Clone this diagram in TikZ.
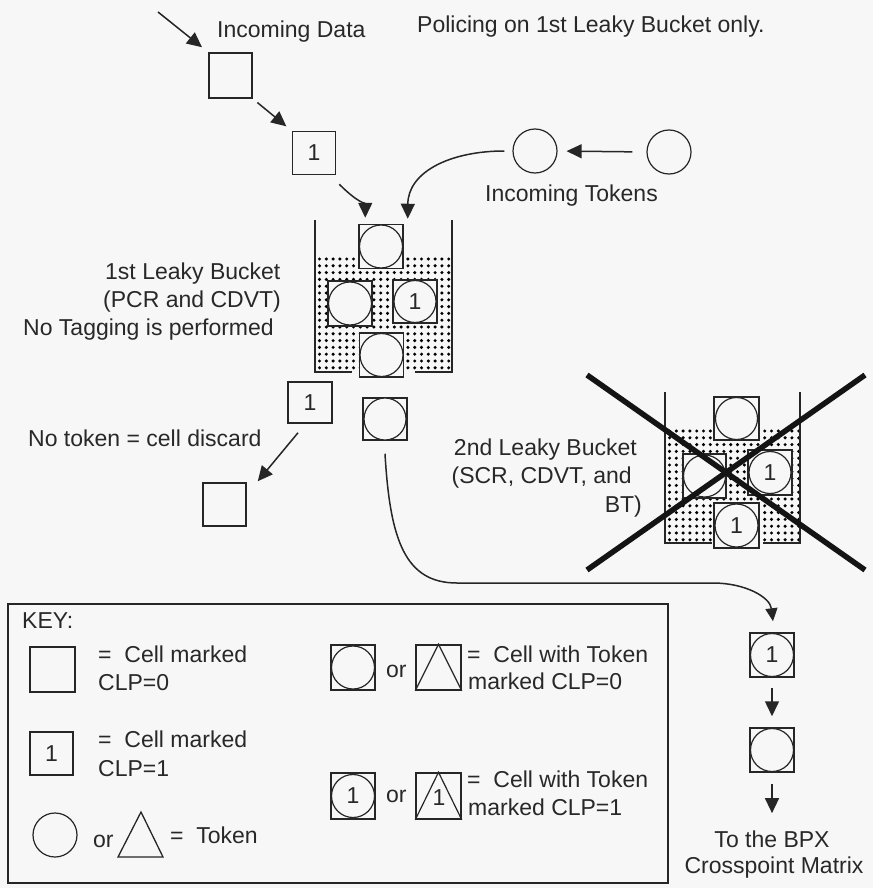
\documentclass[tikz,border=0pt]{standalone}
\usepackage{fontspec}
\setmainfont{Liberation Sans}
\usetikzlibrary{arrows.meta}
\definecolor{bg}{RGB}{247,247,247}
\definecolor{lc}{RGB}{38,38,38}
\definecolor{tc}{RGB}{40,40,40}
\newcommand\dfont{\fontsize{23}{26}\selectfont}
\tikzset{
  ln/.style={draw=lc, line width=1.5pt},
  arr/.style={ln, -{Triangle[length=15pt,width=14pt]}},
  txt/.style={font=\dfont, text=tc, inner sep=0pt, anchor=base west},
  cellbox/.style={draw=lc, fill=bg, line width=1.5pt, minimum width=44pt, minimum height=44pt, inner sep=0pt, font=\dfont, text=tc},
  tok/.style={circle, draw=lc, fill=bg, line width=1.2pt, minimum size=43pt, inner sep=0pt, font=\dfont, text=tc},
  wall/.style={draw=lc, line width=1.6pt},
  dotf/.style={fill=black},
  cross/.style={draw=black!92, line width=5.5pt}
}
\begin{document}
\begin{tikzpicture}[x=1pt,y=-1pt]
\useasboundingbox (0,0) rectangle (873,888);
\fill[bg] (0,0) rectangle (873,888);

% ---------- stipple of the buckets ----------
\foreach \i in {0,...,19}{\foreach \j in {0,...,16}{
  \fill[dotf] (319.5+\i*6.8,259+\j*6.8) circle (1.7pt);
  \fill[dotf] (669.5+\i*6.8,431+\j*6.8) circle (1.7pt);
}}

% ---------- texts ----------
\node[txt] (tdata) at (217,38) {Incoming Data};
\node[txt] (tpol) at (417,33) {Policing on 1st Leaky Bucket only.};
\node[txt] (ttok) at (485,201) {Incoming Tokens};
\node[txt] (tb1a) at (105,279) {1st Leaky Bucket};
\node[txt] (tb1b) at (103,307) {(PCR and CDVT)};
\node[txt] (tb1c) at (23,335) {No Tagging is performed};
\node[txt] (tdisc) at (28,446) {No token = cell discard};
\node[txt, anchor=base east] (tb2a) at (637,455) {2nd Leaky Bucket};
\node[txt, anchor=base east] (tb2b) at (632,483) {(SCR, CDVT, and};
\node[txt, anchor=base east] (tb2c) at (642,512) {BT)};
\node[txt, anchor=base] (tbpx1) at (772,847) {To the BPX};
\node[txt, anchor=base] (tbpx2) at (774,873) {Crosspoint Matrix};

% ---------- incoming data ----------
\coordinate (in0) at (158,12);
\node[cellbox, minimum height=45pt, minimum width=43pt] (d0) at (230.5,75.5) {};
\node[cellbox, minimum size=43pt] (d1) at (314,153) {1};

% ---------- tokens ----------
\node[tok, minimum size=44pt] (t1) at (535,151) {};
\node[tok, minimum size=44pt] (t2) at (669,152) {};

% ---------- bucket 1 ----------
\fill[bg] (314,373) rectangle (453,380);
\node[cellbox] (b1a) at (381,246.5) {};
\node[tok] (b1at) at (b1a) {};
\node[cellbox, minimum height=45pt] (b1b) at (350,303.5) {};
\node[tok] (b1bt) at (b1b) {};
\node[cellbox, minimum height=43pt] (b1c) at (415,301.5) {};
\node[tok, minimum size=42pt] (b1ct) at (b1c) {1};
\node[cellbox] (b1d) at (381.5,355) {};
\node[tok] (b1dt) at (b1d) {};
\draw[wall] (315,220) -- (315,372) -- (352,372);
\draw[wall] (452,220) -- (452,372) -- (415,372);

% ---------- below bucket 1 ----------
\node[cellbox, minimum height=41pt] (q1) at (310,402.5) {1};
\node[cellbox, minimum height=42pt] (c1) at (385,419) {};
\node[tok, minimum size=42pt] (c1t) at (c1) {};
\node[cellbox, minimum width=43pt, minimum height=43pt] (disc) at (224.5,504.5) {};

% ---------- bucket 2 ----------
\fill[bg] (664,544) rectangle (801,550);
\node[cellbox, minimum width=45pt, minimum height=43pt] (b2a) at (736.5,418.5) {};
\node[tok, minimum size=42pt] (b2at) at (b2a) {};
\node[cellbox, minimum width=43pt] (b2b) at (704.5,476) {};
\node[tok, minimum size=42pt] (b2bt) at (b2b) {};
\node[cellbox, minimum height=45pt] (b2c) at (770,472.5) {};
\node[tok, minimum size=42pt] (b2ct) at (b2c) {1};
\node[cellbox, minimum width=45pt, minimum height=45pt] (b2d) at (736.5,525.5) {};
\node[tok, minimum size=43pt] (b2dt) at (b2d) {1};
\draw[wall] (665,392) -- (665,543) -- (712,543);
\draw[wall] (800,392) -- (800,543) -- (763,543);
\coordinate (xa) at (587,375);
\coordinate (xb) at (865,570);
\coordinate (xc) at (865,375);
\coordinate (xd) at (587,570);
\draw[cross] (xa) -- (xb);
\draw[cross] (xc) -- (xd);

% ---------- right column ----------
\node[cellbox] (r1) at (772,655) {};
\node[tok] (r1t) at (r1) {1};
\node[cellbox] (r2) at (772,750) {};
\node[tok] (r2t) at (r2) {};

% ---------- connectors ----------
\draw[arr, shorten >=8pt] (in0) -- (d0.north west);
\draw[arr, shorten <=6pt, shorten >=7pt] (d0.south east) -- (d1.north west);
\draw[arr] ([shift={(3,9)}]d1.south east) .. controls +(18,18) and +(0,-14) .. ([shift={(7,-6)}]b1a.north west);
\draw[arr] ([shift={(-8,0)}]t1.west) .. controls (450,151) and (408,172) .. ([shift={(4,-5)}]b1a.north east);
\draw[arr, shorten <=14pt, shorten >=9pt] (t2.west) -- (t1.east);
\draw[arr] ([shift={(-12,9)}]q1.south) -- ([shift={(11,-1)}]disc.north east);
\draw[ln, -{Triangle[length=13pt,width=12pt]}] ([shift={(0,13)}]c1.south) .. controls (390,540) and (405,583) .. (457,583) -- (713,583) .. controls (745,583) and (770,597) .. ([shift={(1,-11)}]r1.north);
\draw[arr, shorten <=10pt, shorten >=11pt] (r1.south) -- (r2.north);
\draw[arr, shorten <=11pt, shorten >=17pt] (r2.south) -- (r2.south |- tbpx1.north);

% ---------- key ----------
\node[draw=lc, line width=1.6pt, minimum width=660pt, minimum height=279pt, inner sep=0pt] (keybox) at (338,743.5) {};
\node[txt] (keyl) at (22,628) {KEY:};
\node[cellbox, minimum width=45pt, minimum height=45pt] (k1) at (52.5,669.5) {};
\node[txt] (k1a) at (98,662) {=\ \ Cell marked};
\node[txt] (k1b) at (98,690) {CLP=0};
\node[cellbox, minimum size=43pt] (k2) at (51.5,753.5) {1};
\node[txt] (k2a) at (98,747) {=\ \ Cell marked};
\node[txt] (k2b) at (98,776) {CLP=1};
\node[tok, minimum size=44pt] (k3) at (55,835) {};
\node[txt] (kor1) at (93,847) {or};
\coordinate (ktA) at (118,857);
\coordinate (ktB) at (141,812);
\coordinate (ktC) at (163,857);
\draw[ln, line width=1.3pt] (ktA) -- (ktB) -- (ktC) -- cycle;
\node[txt] (k3a) at (170,843) {=\ \ Token};

\node[cellbox, minimum height=45pt] (k4) at (353,667.5) {};
\node[tok] (k4t) at (k4) {};
\node[txt] (kor2) at (386,677) {or};
\node[cellbox, minimum width=45pt, minimum height=45pt] (k5) at (438.5,667.5) {};
\draw[ln, line width=1.2pt] (k5.south west) -- (k5.north) -- (k5.south east);
\node[txt] (k4a) at (467,662) {=\ \ Cell with Token};
\node[txt] (k4b) at (468,689) {marked CLP=0};

\node[cellbox, minimum height=46pt] (k6) at (353,796) {};
\node[tok] (k6t) at (k6) {1};
\node[txt] (kor3) at (386,802) {or};
\node[cellbox, minimum width=45pt, minimum height=46pt] (k7) at (438.5,796) {};
\draw[ln, line width=1.2pt] (k7.south west) -- (k7.north) -- (k7.south east);
\node[font=\dfont, text=tc, inner sep=0pt] (k7n) at (439,798) {1};
\node[txt] (k5a) at (467,787) {=\ \ Cell with Token};
\node[txt] (k5b) at (468,815) {marked CLP=1};
\end{tikzpicture}
\end{document}
